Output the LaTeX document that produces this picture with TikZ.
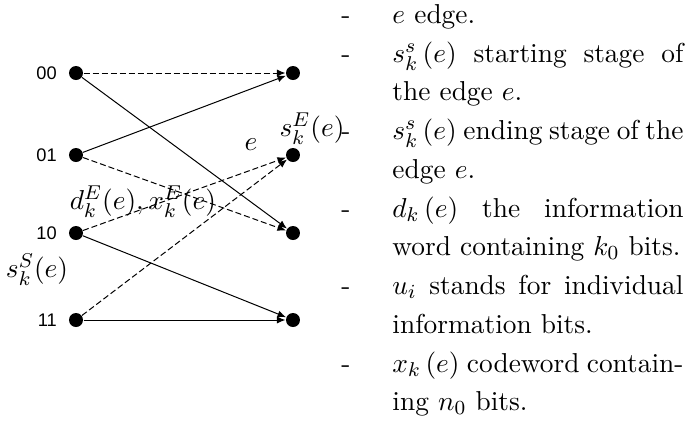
\documentclass[11pt,tikz,border=0pt]{standalone}
\usepackage{amsmath,amssymb}
\usepackage{fontspec}
\newfontfamily\statefont{Liberation Sans}
\usetikzlibrary{arrows.meta,positioning}

\newcommand{\dashitem}{\par\noindent\hangindent=20.4pt\hangafter=1\makebox[20.4pt][l]{-}}

\begin{document}
\begin{tikzpicture}[x=0.4pt,y=-0.4pt,
    dot/.style={circle,fill,inner sep=0pt,minimum size=5.6pt},
    state/.style={font=\statefont\fontsize{7.3}{8}\selectfont,inner sep=0pt},
    lbl/.style={inner sep=0pt},
    arrow/.style={-{Latex[length=3.4pt,width=2.8pt]},thin},
    dasharrow/.style={arrow,dash pattern=on 2.4pt off 1.2pt}
  ]
    \useasboundingbox (0,0) rectangle (689,421);
    % trellis stages
    \node[dot] (a00) at (76,73) {};
    \node[dot] (a01) at (76,155) {};
    \node[dot] (a10) at (76,233) {};
    \node[dot] (a11) at (76,320) {};
    \node[dot] (b00) at (293,73) {};
    \node[dot] (b01) at (293,155) {};
    \node[dot] (b10) at (293,233) {};
    \node[dot] (b11) at (293,320) {};
    \node[state,left=4.5pt of a00] (t00) {00};
    \node[state,left=4.5pt of a01] (t01) {01};
    \node[state,left=4.5pt of a10] (t10) {10};
    \node[state,left=4.5pt of a11] (t11) {11};
    % labels
    \node[lbl] (sS) at (37,270) {$s_k^S(e)$};
    \node[lbl] (sE) at (312,129) {$s_k^E(e)$};
    \node[lbl] (e) at (251,145) {$e$};
    \node[lbl] (dx) at (143,202) {$d_k^E(e), x_k^E(e)$};
    % edges
    \draw[dasharrow] (a00) -- (b00);
    \draw[arrow] (a00) -- (b10);
    \draw[arrow] (a01) -- (b00);
    \draw[dasharrow] (a01) -- (b10);
    \draw[dasharrow] (a10) -- (b01);
    \draw[arrow] (a10) -- (b11);
    \draw[dasharrow] (a11) -- (b01);
    \draw[arrow] (a11) -- (b11);
    % notes
    \node[anchor=north west,inner sep=0pt,text width=136.8pt,align=justify,
      font=\fontsize{10.95}{15.5}\selectfont] (notes) at (341,-16) {%
      \dashitem $e$ edge.
      \dashitem $s_k^s\left(e\right)$ starting stage of the edge $e$.
      \dashitem $s_k^s\left(e\right)$ ending stage of the edge $e$.
      \dashitem $d_k\left(e\right)$ the information word containing $k_0$ bits.
      \dashitem $u_i$ stands for individual information bits.
      \dashitem $x_k\left(e\right)$ codeword contain\-ing $n_0$ bits.\par};
\end{tikzpicture}
\end{document}
